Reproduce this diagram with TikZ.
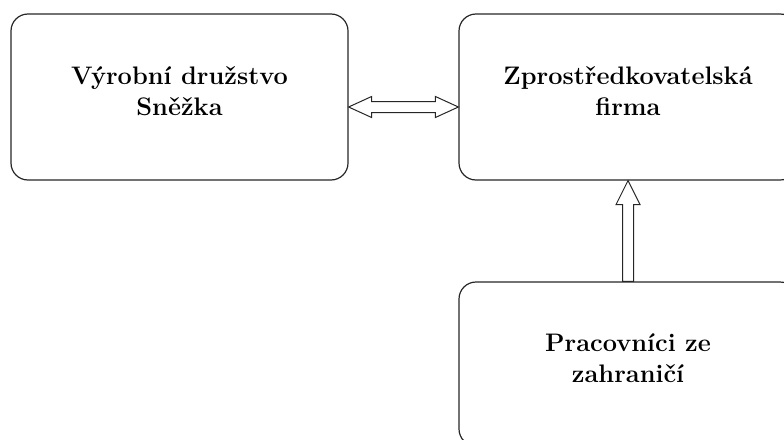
\documentclass[tikz,border=0pt]{standalone}
\usepackage{tikz}
\usetikzlibrary{calc}

\begin{document}
\begin{tikzpicture}[x=0.75pt, y=0.75pt,
    box/.style={rectangle, rounded corners=12.75pt, draw=black!85, line width=0.9pt,
        minimum width=253.5pt, minimum height=124.5pt, align=center,
        text depth=9pt, font=\fontsize{19}{23}\selectfont\bfseries},
    arrowline/.style={draw=black!85, line width=0.75pt, line join=miter, fill=white}]

\useasboundingbox (0,0) rectangle (784,-439);

% Boxes
\node[box, minimum width=252.75pt] (vd) at (179.5,-97) {V\'yrobn\'i dru\v{z}stvo\\Sn\v{e}\v{z}ka};
\node[box] (zf) at (628,-97) {Zprost\v{r}edkovatelsk\'a\\firma};
\node[box, minimum height=123pt] (pz) at (628,-364) {Pracovn\'ici ze\\zahrani\v{c}\'i};

% Arrow vd-zf
\draw[arrowline] ($(vd.east)+(0,-10)$) -- ++(23,10.5) -- ++(0,-5)
    -- ($(zf.west)+(-23,-4.5)$) -- ++(0,5) -- ($(zf.west)+(0,-10)$)
    -- ++(-23,-10.5) -- ++(0,5) -- ($(vd.east)+(23,-15.5)$) -- ++(0,-5) -- cycle;

% Arrow pz-zf
\draw[arrowline] ($(pz.north)+(-5.5,0)$) -- ($(zf.south)+(-5.5,-24)$) -- ++(-6.5,0)
    -- (zf.south) -- ++(12,-24) -- ++(-6.5,0) -- ($(pz.north)+(5.5,0)$) -- cycle;

\end{tikzpicture}
\end{document}
